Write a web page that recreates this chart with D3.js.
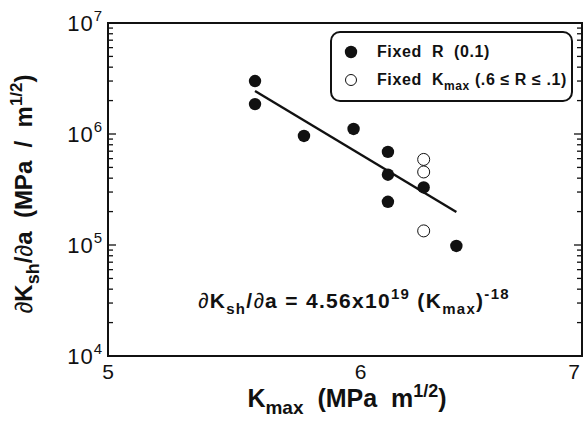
<!DOCTYPE html>
<meta charset="utf-8">
<style>
body { margin: 0; background: #fff; }
text { font-family: "Liberation Sans", Arial, Helvetica, sans-serif; fill: #111; white-space: pre; }
.bold { font-weight: bold; }
</style>
<svg width="584" height="426"></svg>
<script src="https://d3js.org/d3.v7.min.js"></script>
<script>

// data
var fixedR_k = [5.56, 5.56, 5.76, 5.97, 6.12, 6.12, 6.12, 6.28, 6.43]
var fixedR_v = [3.0e6, 1.86e6, 9.6e5, 1.11e6, 6.9e5, 4.3e5, 2.45e5, 3.3e5, 9.8e4]
var fixedK_k = [6.28, 6.28, 6.28]
var fixedK_v = [5.9e5, 4.55e5, 1.34e5]
var fitK = [5.56, 6.43]
var fitV = [2.44e6, 1.98e5]
var xTicks = [5, 6, 7]
var yTicks = [4, 5, 6, 7]   // powers of ten

var svg = d3.select('svg')
var pLeft = 108, pRight = 582, pTop = 23, pBottom = 356

var x = d3.scaleLog().domain([5, 7]).range([pLeft, 574])
var y = d3.scaleLog().domain([1e4, 1e7]).range([pBottom, pTop])

// minor + major ticks on left and right (inward)
var ticks = []
yTicks.forEach(function(p){
  for (var m = 1; m <= 9; m++) {
    var v = m * Math.pow(10, p)
    if (v <= 1e7) ticks.push({v: v, major: m == 1})
  }
})
var g = svg.append('g').attr('stroke', '#111').attr('stroke-width', 1.3)
g.selectAll('.tl').data(ticks).enter().append('line')
  .attr('x1', pLeft).attr('x2', function(d){ return pLeft + (d.major ? 8 : 5) })
  .attr('y1', function(d){ return y(d.v) }).attr('y2', function(d){ return y(d.v) })
g.selectAll('.tr').data(ticks).enter().append('line')
  .attr('x1', pRight).attr('x2', function(d){ return pRight - (d.major ? 8 : 5) })
  .attr('y1', function(d){ return y(d.v) }).attr('y2', function(d){ return y(d.v) })

// frame
svg.append('rect').attr('x', pLeft).attr('y', pTop)
  .attr('width', pRight - pLeft).attr('height', pBottom - pTop)
  .attr('fill', 'none').attr('stroke', '#111').attr('stroke-width', 2)

// y tick labels
var yl = svg.selectAll('.yl').data(yTicks).enter().append('text')
  .attr('x', 103).attr('y', function(d){ return y(Math.pow(10, d)) + 8 })
  .attr('text-anchor', 'end').style('font-size', '22px').style('letter-spacing', '1px')
yl.append('tspan').text('10')
yl.append('tspan').attr('dy', -10).style('font-size', '15px').text(function(d){ return d })

// x tick labels
svg.selectAll('.xl').data(xTicks).enter().append('text')
  .attr('x', function(d){ return x(d) }).attr('y', 379)
  .attr('text-anchor', 'middle').style('font-size', '21px')
  .text(function(d){ return d })

// fit line
svg.append('line')
  .attr('x1', x(fitK[0])).attr('y1', y(fitV[0]))
  .attr('x2', x(fitK[1])).attr('y2', y(fitV[1]))
  .attr('stroke', '#111').attr('stroke-width', 2.4)

// points
svg.selectAll('.f').data(fixedR_k).enter().append('circle')
  .attr('cx', function(d){ return x(d) })
  .attr('cy', function(d, i){ return y(fixedR_v[i]) })
  .attr('r', 6.2).attr('fill', '#111')
svg.selectAll('.o').data(fixedK_k).enter().append('circle')
  .attr('cx', function(d){ return x(d) })
  .attr('cy', function(d, i){ return y(fixedK_v[i]) })
  .attr('r', 6).attr('fill', '#fff').attr('stroke', '#111').attr('stroke-width', 1)

// legend
svg.append('rect').attr('x', 331).attr('y', 32).attr('width', 241).attr('height', 69)
  .attr('rx', 9).attr('fill', '#fff').attr('stroke', '#111').attr('stroke-width', 2)
svg.append('circle').attr('cx', 351).attr('cy', 52).attr('r', 6.2).attr('fill', '#111')
svg.append('circle').attr('cx', 351).attr('cy', 80).attr('r', 5.5)
  .attr('fill', '#fff').attr('stroke', '#111').attr('stroke-width', 1)
svg.append('text').attr('class', 'bold').attr('x', 377).attr('y', 57)
  .style('font-size', '16px').style('letter-spacing', '0.6px').text('Fixed  R  (0.1)')
var l2 = svg.append('text').attr('class', 'bold').attr('x', 377).attr('y', 85)
  .style('font-size', '16px').style('letter-spacing', '0.6px')
l2.append('tspan').text('Fixed  K')
l2.append('tspan').attr('dy', 5).style('font-size', '12px').text('max')
l2.append('tspan').attr('dy', -5).text(' (.6 \u2264 R \u2264 .1)')

// equation
var eq = svg.append('text').attr('class', 'bold').attr('x', 198).attr('y', 308)
  .style('font-size', '21px').style('letter-spacing', '1.3px')
eq.append('tspan').style('font-weight', 'normal').text('\u2202')
eq.append('tspan').text('K')
eq.append('tspan').attr('dy', 6).style('font-size', '15px').text('sh')
eq.append('tspan').attr('dy', -6).text('/')
eq.append('tspan').style('font-weight', 'normal').text('\u2202')
eq.append('tspan').text('a = 4.56x10')
eq.append('tspan').attr('dy', -9).style('font-size', '15px').text('19')
eq.append('tspan').attr('dy', 9).text(' (K')
eq.append('tspan').attr('dy', 6).style('font-size', '15px').text('max')
eq.append('tspan').attr('dy', -6).text(')')
eq.append('tspan').attr('dy', -9).style('font-size', '15px').text('-18')

// x title
var xt = svg.append('text').attr('class', 'bold').attr('x', 347).attr('y', 407)
  .attr('text-anchor', 'middle').style('font-size', '25px')
xt.append('tspan').text('K')
xt.append('tspan').attr('dy', 7).style('font-size', '19px').text('max')
xt.append('tspan').attr('dy', -7).text('  (MPa  m')
xt.append('tspan').attr('dy', -10).style('font-size', '18px').text('1/2')
xt.append('tspan').attr('dy', 10).text(')')

// y title
var yt = svg.append('text').attr('class', 'bold')
  .attr('transform', 'translate(32,194) rotate(-90)')
  .attr('text-anchor', 'middle').style('font-size', '24px')
yt.append('tspan').style('font-weight', 'normal').text('\u2202')
yt.append('tspan').text('K')
yt.append('tspan').attr('dy', 7).style('font-size', '18px').text('sh')
yt.append('tspan').attr('dy', -7).text('/')
yt.append('tspan').style('font-weight', 'normal').text('\u2202')
yt.append('tspan').text('a  (MPa  /  m')
yt.append('tspan').attr('dy', -10).style('font-size', '17px').text('1/2')
yt.append('tspan').attr('dy', 10).text(')')

</script>
